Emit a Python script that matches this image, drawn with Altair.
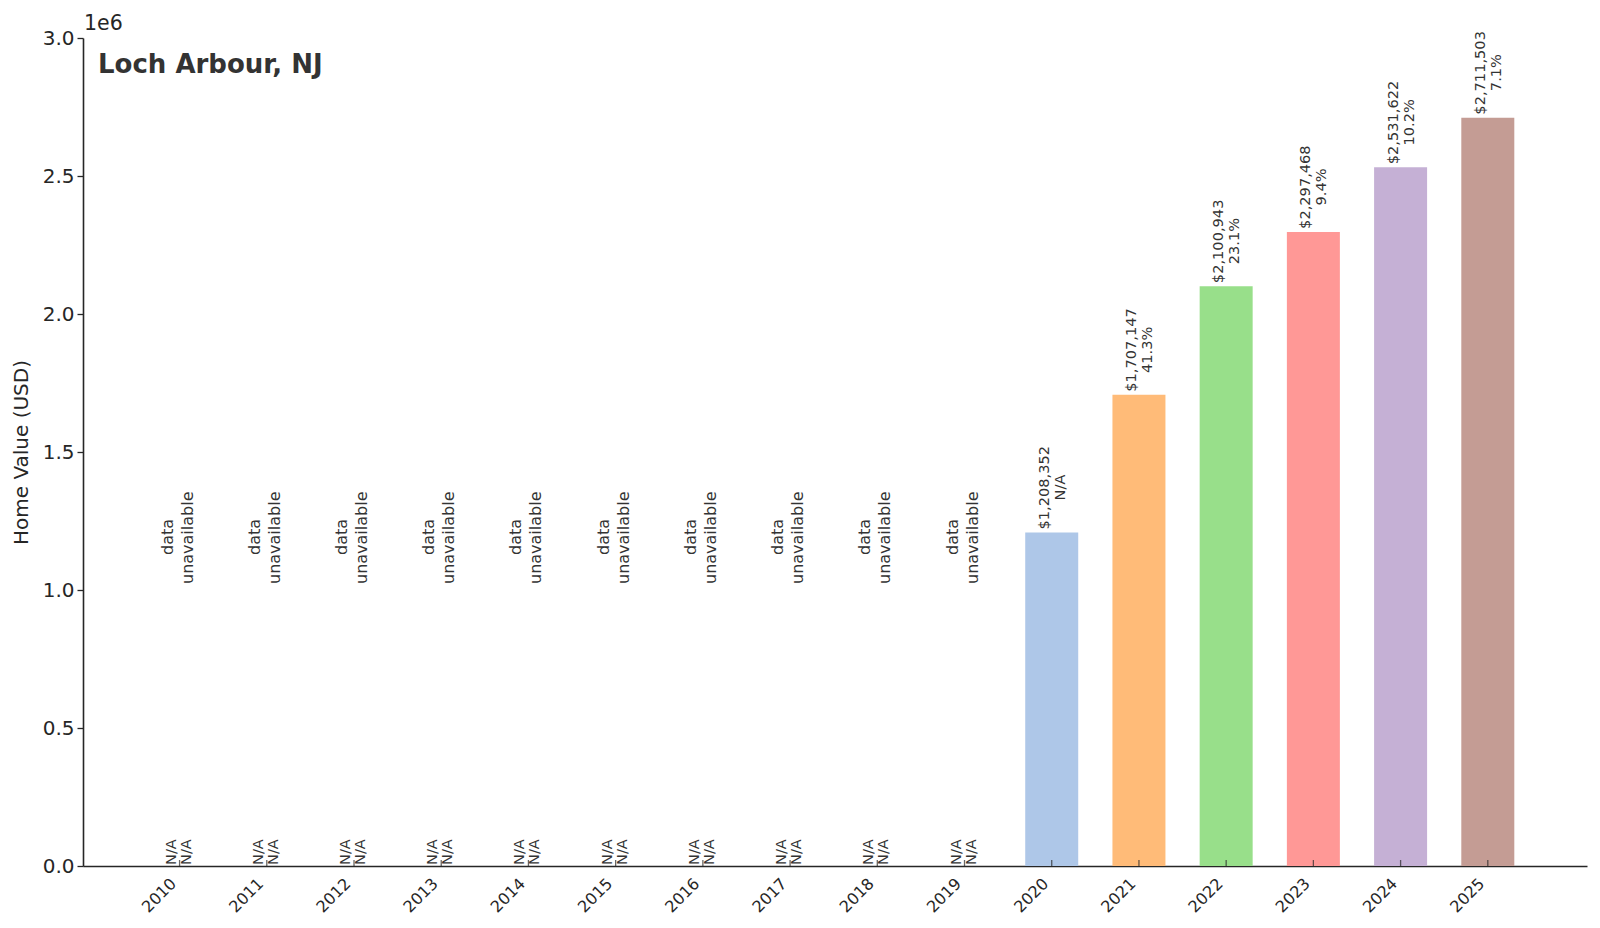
import altair as alt
import pandas as pd

# ---- data ----
years = list(range(2010, 2026))
values = [None] * 10 + [1208352, 1707147, 2100943, 2297468, 2531622, 2711503]
pct_labels = ["N/A"] * 11 + ["41.3%", "23.1%", "9.4%", "10.2%", "7.1%"]
bar_colors = [None] * 10 + ["#aec7e8", "#ffbb78", "#98df8a", "#ff9896", "#c5b0d5", "#c49c94"]
y_ticks = [0, 500000, 1000000, 1500000, 2000000, 2500000, 3000000]
title_text = "Loch Arbour, NJ"
y_title = "Home Value (USD)"
offset_text = "1e6"

df = pd.DataFrame({
    "idx": list(range(len(years))),
    "year": years,
    "value": values,
    "pct": pct_labels,
    "color": bar_colors,
})

FONT = "DejaVu Sans"
DARK = "#262626"
LABEL = "#333333"

years_js = "[" + ",".join(f"'{y}'" for y in years) + "]"

x_enc = alt.X(
    "idx:Q",
    scale=alt.Scale(domain=[-1.05, 16.08], nice=False, zero=False),
    axis=alt.Axis(
        values=list(range(len(years))),
        labelExpr=f"{years_js}[datum.value]",
        ticks=False,
        grid=False,
        title=None,
        labelAngle=-45,
        labelAlign="right",
        labelBaseline="top",
        labelPadding=9,
        labelOffset=-12,
        labelFontSize=16,
        labelColor=DARK,
        domainColor=DARK,
        domainWidth=1.6,
    ),
)
y_scale = alt.Scale(domain=[0, 3000000], nice=False, zero=True)
y_axis = alt.Axis(
    values=y_ticks,
    labelExpr="format(datum.value / 1000000, '.1f')",
    grid=False,
    title=y_title,
    titleFontSize=20,
    titleFontWeight="normal",
    titleColor=DARK,
    titlePadding=11,
    labelFontSize=20,
    labelColor=DARK,
    labelPadding=3,
    tickSize=6,
    tickWidth=1.3,
    tickColor=DARK,
    domainColor=DARK,
    domainWidth=1.6,
)

base = alt.Chart(df)

bars = base.transform_filter("isValid(datum.value)").mark_bar(size=53).encode(
    x=x_enc,
    y=alt.Y("value:Q", scale=y_scale, axis=y_axis),
    color=alt.Color("color:N", scale=None),
)

xticks = base.mark_tick(orient="vertical", size=6, thickness=1.3, yOffset=-3, color=DARK).encode(
    x="idx:Q",
    y=alt.datum(0),
)

val_line1 = base.transform_filter("isValid(datum.value)").mark_text(
    angle=270, align="left", baseline="middle", dx=3, dy=-7, fontSize=14.6, color=LABEL, font=FONT
).encode(x="idx:Q", y="value:Q", text=alt.Text("value:Q", format="$,.0f"))

val_line2 = base.transform_filter("isValid(datum.value)").mark_text(
    angle=270, align="center", baseline="middle", dx=45, dy=9, fontSize=14.6, color=LABEL, font=FONT
).encode(x="idx:Q", y="value:Q", text="pct:N")

na_line1 = base.transform_filter("!isValid(datum.value)").mark_text(
    angle=270, align="left", baseline="middle", dx=1, dy=-8, fontSize=14.6, color=LABEL, font=FONT
).encode(x="idx:Q", y=alt.datum(0), text=alt.value("N/A"))

na_line2 = base.transform_filter("!isValid(datum.value)").mark_text(
    angle=270, align="left", baseline="middle", dx=1, dy=7, fontSize=14.6, color=LABEL, font=FONT
).encode(x="idx:Q", y=alt.datum(0), text="pct:N")

un_line1 = base.transform_filter("!isValid(datum.value)").mark_text(
    angle=270, align="center", baseline="middle", dx=53, dy=-12, fontSize=16, color=LABEL, font=FONT
).encode(x="idx:Q", y=alt.datum(1000000), text=alt.value("data"))

un_line2 = base.transform_filter("!isValid(datum.value)").mark_text(
    angle=270, align="left", baseline="middle", dx=6, dy=8, fontSize=16, color=LABEL, font=FONT
).encode(x="idx:Q", y=alt.datum(1000000), text=alt.value("unavailable"))

title = alt.Chart(pd.DataFrame({"t": [title_text]})).mark_text(
    align="left", baseline="alphabetic", fontSize=26, fontWeight="bold", color="#333333", font=FONT
).encode(x=alt.value(15), y=alt.value(35), text="t:N")

offset = alt.Chart(pd.DataFrame({"t": [offset_text]})).mark_text(
    align="left", baseline="alphabetic", fontSize=20.5, color=DARK, font=FONT
).encode(x=alt.value(1), y=alt.value(-8), text="t:N")

chart = alt.layer(
    bars, xticks, val_line1, val_line2, na_line1, na_line2, un_line1, un_line2, title, offset
).properties(
    width=1504,
    height=828,
    autosize=alt.AutoSizeParams(type="none"),
    padding={"left": 75, "top": 30, "right": 5, "bottom": 50},
).configure(
    font=FONT,
).configure_view(
    stroke=None,
)

chart.save("out.html", embed_options={"renderer": "svg", "actions": False})
